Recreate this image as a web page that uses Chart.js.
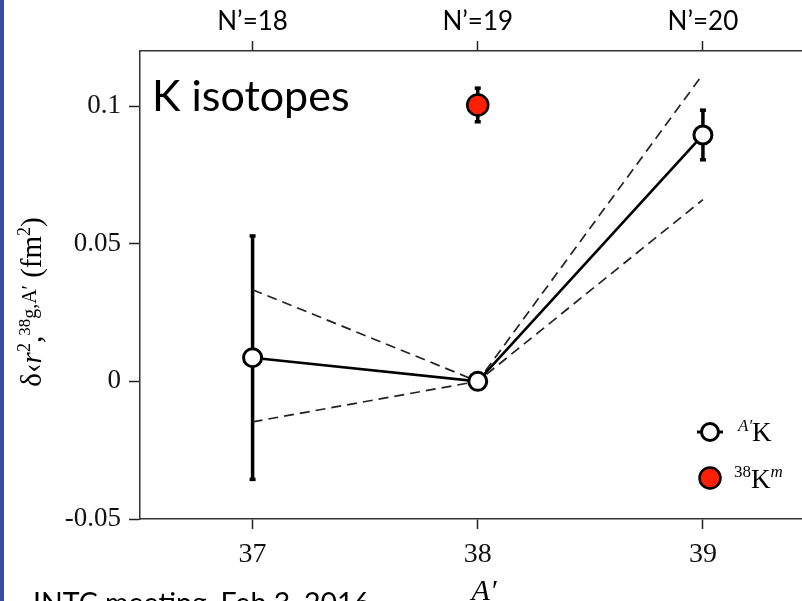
<!DOCTYPE html>
<html>
<head>
<meta charset="utf-8">
<script src="https://cdn.jsdelivr.net/npm/chart.js@4.4.1/dist/chart.umd.min.js"></script>
<style>
  body { margin: 0; background: #fff; }
  #wrap { width: 802px; height: 601px; position: relative; overflow: hidden; }
</style>
</head>
<body>
<div id="wrap"><canvas id="chart" width="802" height="601"></canvas></div>
<script>
// A' values along the chain
const xValues = [37, 38, 39];
const groundValues = [0.0086, 0, 0.0895];   // A'K, ground states
const groundErrors = [0.0443, 0, 0.0091];
const upperBand = [0.0333, 0, 0.1116];      // dashed uncertainty envelope
const lowerBand = [-0.0147, 0, 0.066];
const isomerX = [38];                       // 38K isomer
const isomerValues = [0.1004];
const isomerErrors = [0.0062];

// tick labels
const xTicks = [37, 38, 39];
const topTickLabels = ['N’=18', 'N’=19', 'N’=20'];
const yTicks = [-0.05, 0, 0.05, 0.1];
const yTickLabels = ['-0.05', '0', '0.05', '0.1'];

const serif = 'Liberation Serif';
const sans = 'Lato';
const red = '#ff1f05';

function toPoints(xs, ys) {
    return xs.map((x, i) => ({ x: x, y: ys[i] }));
}

// draw a run of text pieces [text, font, dy], starting at x
function drawPieces(ctx, pieces, x, y) {
    pieces.forEach(p => {
        ctx.font = p[1];
        ctx.fillText(p[0], x, y + p[2]);
        x += ctx.measureText(p[0]).width;
    });
    return x;
}

// error bars with small square caps, drawn under the markers
const errorBars = {
    id: 'errorBars',
    beforeDatasetsDraw(chart) {
        const ctx = chart.ctx;
        const xs = chart.scales.x, ys = chart.scales.y;
        const sets = [[xValues, groundValues, groundErrors], [isomerX, isomerValues, isomerErrors]];
        ctx.save();
        ctx.strokeStyle = '#000';
        ctx.fillStyle = '#000';
        ctx.lineWidth = 3.5;
        sets.forEach(([xsArr, vals, errs]) => {
            xsArr.forEach((xv, i) => {
                if (!errs[i]) return;
                const px = xs.getPixelForValue(xv);
                const top = ys.getPixelForValue(vals[i] + errs[i]);
                const bot = ys.getPixelForValue(vals[i] - errs[i]);
                ctx.beginPath();
                ctx.moveTo(px, top);
                ctx.lineTo(px, bot);
                ctx.stroke();
                ctx.fillRect(px - 3, top - 1.5, 6, 3.5);
                ctx.fillRect(px - 3, bot - 2, 6, 3.5);
            });
        });
        ctx.restore();
    }
};

// texts and decoration around the plot
const decorations = {
    id: 'decorations',
    afterDraw(chart) {
        const ctx = chart.ctx;
        ctx.save();

        // slide edge
        ctx.fillStyle = '#3a4aa2';
        ctx.fillRect(0, 0, 4, 601);

        ctx.fillStyle = '#000';
        ctx.textBaseline = 'alphabetic';
        ctx.textAlign = 'left';
        ctx.font = '43px ' + sans;
        ctx.fillText('K isotopes', 152, 111);

        ctx.font = '28.5px ' + sans;
        ctx.fillText('INTC meeting, Feb 3, 2016', 33, 613);

        // x title
        ctx.textAlign = 'center';
        ctx.font = 'italic 30px ' + serif;
        ctx.fillText('A′', 484, 600);

        // y title, rotated
        const segs = [
            ['δ‹', '29px ' + serif, 0],
            ['r', 'italic 29px ' + serif, 0],
            ['2', '18px ' + serif, -11],
            [',', '29px ' + serif, 0],
            ['38', '17px ' + serif, -11],
            ['g,A′', '20px ' + serif, -5],
            [' (fm', '29px ' + serif, 0],
            ['2', '18px ' + serif, -11],
            [')', '29px ' + serif, 0]
        ];
        ctx.translate(41, 302);
        ctx.rotate(-Math.PI / 2);
        ctx.textAlign = 'left';
        let total = 0;
        segs.forEach(s => { ctx.font = s[1]; total += ctx.measureText(s[0]).width; });
        drawPieces(ctx, segs, -total / 2, 0);
        ctx.restore();

        // legend
        ctx.save();
        ctx.strokeStyle = '#000';
        ctx.lineWidth = 3;
        ctx.beginPath();
        ctx.moveTo(697, 432); ctx.lineTo(723, 432);
        ctx.stroke();
        ctx.fillStyle = '#fff';
        ctx.beginPath(); ctx.arc(710, 432, 8.5, 0, Math.PI * 2); ctx.fill(); ctx.stroke();
        ctx.fillStyle = red;
        ctx.lineWidth = 2.5;
        ctx.beginPath(); ctx.arc(710, 478, 10.5, 0, Math.PI * 2); ctx.fill(); ctx.stroke();

        ctx.fillStyle = '#000';
        ctx.textAlign = 'left';
        drawPieces(ctx, [
            ['A′', 'italic 17px ' + serif, -10],
            ['K', '27px ' + serif, 0]
        ], 738, 441);
        drawPieces(ctx, [
            ['38', '17px ' + serif, -11],
            ['K', '27px ' + serif, 0],
            ['m', 'italic 17px ' + serif, -11]
        ], 734, 488);
        ctx.restore();
    }
};

const axisCommon = {
    type: 'linear',
    grid: { drawOnChartArea: false, drawTicks: true, tickLength: 10, tickColor: '#222', tickWidth: 1.5 },
    border: { display: true, color: '#333', width: 1.5 }
};

function noSidePadding(s) {
    s.paddingLeft = 0;
    s.paddingRight = 0;
    s.paddingTop = 0;
    s.paddingBottom = 0;
}

new Chart(document.getElementById('chart').getContext('2d'), {
    type: 'line',
    data: {
        datasets: [
            {
                label: 'A′K',
                data: toPoints(xValues, groundValues),
                borderColor: '#000',
                borderWidth: 2.6,
                pointRadius: 9,
                pointBorderWidth: 3,
                pointBackgroundColor: '#fff',
                pointBorderColor: '#000'
            },
            {
                label: '38Km',
                data: toPoints(isomerX, isomerValues),
                showLine: false,
                pointRadius: 10.5,
                pointBorderWidth: 2.5,
                pointBackgroundColor: red,
                pointBorderColor: '#000'
            },
            {
                label: 'upper',
                data: toPoints(xValues, upperBand),
                borderColor: '#222',
                borderWidth: 1.7,
                borderDash: [10, 6],
                pointRadius: 0
            },
            {
                label: 'lower',
                data: toPoints(xValues, lowerBand),
                borderColor: '#222',
                borderWidth: 1.7,
                borderDash: [10, 6],
                pointRadius: 0
            }
        ]
    },
    options: {
        responsive: false,
        animation: false,
        layout: { padding: 0, autoPadding: false },
        plugins: { legend: { display: false }, tooltip: { enabled: false } },
        scales: {
            x: Object.assign({}, axisCommon, {
                position: 'bottom',
                min: 36.5,
                max: 39.44,
                afterBuildTicks: s => { s.ticks = xTicks.map(v => ({ value: v })); },
                afterFit: s => { s.height = 82; noSidePadding(s); },
                ticks: { color: '#111', font: { family: serif, size: 28 }, padding: 9, maxRotation: 0,
                         callback: v => String(v) }
            }),
            x2: Object.assign({}, axisCommon, {
                position: 'top',
                min: 36.5,
                max: 39.44,
                afterBuildTicks: s => { s.ticks = xTicks.map(v => ({ value: v })); },
                afterFit: s => { s.height = 51; noSidePadding(s); },
                ticks: { color: '#000', font: { family: sans, size: 26 }, padding: 4, maxRotation: 0,
                         callback: (v, i) => topTickLabels[i] }
            }),
            y: Object.assign({}, axisCommon, {
                position: 'left',
                min: -0.05,
                max: 0.12,
                afterBuildTicks: s => { s.ticks = yTicks.map(v => ({ value: v })); },
                afterFit: s => { s.width = 140; noSidePadding(s); },
                grid: { drawOnChartArea: false, drawTicks: true, tickLength: 11, tickColor: '#222', tickWidth: 1.5 },
                ticks: { color: '#111', font: { family: serif, size: 27 }, padding: 8,
                         callback: (v, i) => yTickLabels[i] }
            })
        }
    },
    plugins: [errorBars, decorations]
});
</script>
</body>
</html>
